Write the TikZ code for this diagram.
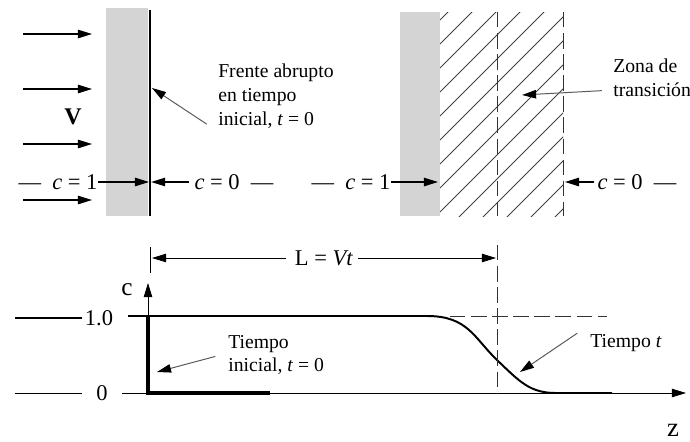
\documentclass[tikz,border=0pt]{standalone}
\usepackage{fontspec}
\setmainfont{Liberation Serif}
\usetikzlibrary{arrows.meta,positioning}

\begin{document}
\begin{tikzpicture}[
  x=0.025cm, y=-0.025cm,
  >={Triangle[length=10pt,width=6pt]},
  lbl/.style={font=\fontsize{16}{19}\selectfont,inner sep=0pt},
  note/.style={font=\fontsize{14}{17}\selectfont,align=left,inner sep=0pt,anchor=west},
  flow/.style={->,line width=0.9pt},
  ptr/.style={-{Triangle[length=10pt,width=6pt,color=black]},draw=black!65,line width=0.7pt},
  slab/.style={fill=black!17,draw=none},
  guide/.style={dash pattern=on 11pt off 4pt,line width=0.7pt,draw=black!80},
  thinline/.style={line width=0.6pt}
]
  \useasboundingbox (0,0) rectangle (690,441);

  % --- abrupt front at t = 0
  \fill[slab] (106,8) rectangle (148,216);
  \coordinate (frtop) at (150,10);
  \coordinate (frbot) at (150,216);
  \draw[line width=1.3pt] (frtop) -- (frbot);
  \foreach \y in {34,89,144,200}
    \draw[flow] (23,\y) -- (92,\y);
  \node[lbl,font=\fontsize{17}{19}\selectfont\bfseries] (vel) at (73,117) {V};

  \node[lbl] (cinL) at (58,182) {—\enspace\textit{c} = 1};
  \node[lbl] (coutL) at (234,182) {\textit{c} = 0\enspace—};
  \coordinate (frmid) at (149,182);
  \draw[flow] (cinL.east) -- (frmid);
  \draw[flow] ([xshift=-4pt]coutL.west) -- ([xshift=1.5pt]frmid);

  \node[note] (frente) at (218,96) {Frente abrupto\\en tiempo\\inicial, \textit{t} = 0};
  \coordinate (frpt) at (152,88);
  \draw[ptr] ([shift={(-8pt,-20pt)}]frente.west) -- (frpt);

  % --- transition zone at time t
  \fill[slab] (400,12) rectangle (440,216);
  \begin{scope}
    \clip (440,12) rectangle (563,216);
    \foreach \k in {0,...,14}
      \draw[thinline,black!75] (440,{20+24*\k}) -- ++(260,-260);
  \end{scope}
  \coordinate (midtop) at (497,12);
  \coordinate (midbot) at (497,216);
  \coordinate (endtop) at (563,12);
  \coordinate (endbot) at (563,216);
  \draw[guide] (midtop) -- (midbot);
  \draw[guide] (endtop) -- (endbot);

  \node[lbl] (cinR) at (351,182) {—\enspace\textit{c} = 1};
  \node[lbl] (coutR) at (637,182) {\textit{c} = 0\enspace—};
  \coordinate (slabR) at (438,182);
  \coordinate (zoneR) at (565,182);
  \draw[flow] (cinR.east) -- (slabR);
  \draw[flow] ([xshift=-2pt]coutR.west) -- (zoneR);

  \node[note] (zona) at (613,78) {Zona de\\transición};
  \coordinate (zonapt) at (522,95);
  \draw[ptr] ([shift={(-8pt,-9pt)}]zona.west) -- (zonapt);

  % --- concentration profile
  \coordinate (orig) at (148,393);
  \coordinate (zend) at (686,393);
  \coordinate (ctop) at (148,283);
  \draw[->,thinline] (122,393) -- (zend);
  \draw[->,thinline] (orig) -- (ctop);
  \node[lbl,font=\fontsize{18}{20}\selectfont] (clab) at (127,290) {c};
  \node[lbl,font=\fontsize{19}{20}\selectfont] (zlab) at (673,430) {z};

  \node[lbl] (one) at (99,318) {1.0};
  \node[lbl] (zero) at (102,393) {0};
  \draw[line width=1.4pt] (15,318) -- ([xshift=-2pt]one.west);
  \draw[thinline] (15,393) -- ([xshift=-10pt]zero.west);

  \draw[line width=2.2pt] (148,316) -- (orig) -- (270,393);
  \draw[line width=1.4pt] (128,316) -- (427,316)
    .. controls (468,316) and (474,338) .. (497,360)
    .. controls (520,382) and (530,393) .. (556,393) -- (612,393);
  \draw[guide] (450,316) -- (607,316);
  \coordinate (Ltop) at (497,245);
  \draw[guide] (Ltop) -- (497,393);

  % --- distance L
  \coordinate (tickA) at (150,247);
  \coordinate (tickB) at (150,273);
  \draw[thinline] (tickA) -- (tickB);
  \node[lbl] (dist) at (324,258) {L = \textit{Vt}};
  \draw[flow,line width=0.6pt] ([xshift=-6pt]dist.west) -- (152,258);
  \draw[flow,line width=0.6pt] ([xshift=3pt]dist.east) -- (496,258);

  \node[note] (tini) at (228,355) {Tiempo\\inicial, \textit{t} = 0};
  \draw[ptr] ([shift={(-9pt,-1pt)}]tini.west) -- (157,372);
  \node[note] (tlate) at (590,343) {Tiempo \textit{t}};
  \draw[ptr] ([shift={(-9pt,7pt)}]tlate.west) -- (520,372);
\end{tikzpicture}
\end{document}
